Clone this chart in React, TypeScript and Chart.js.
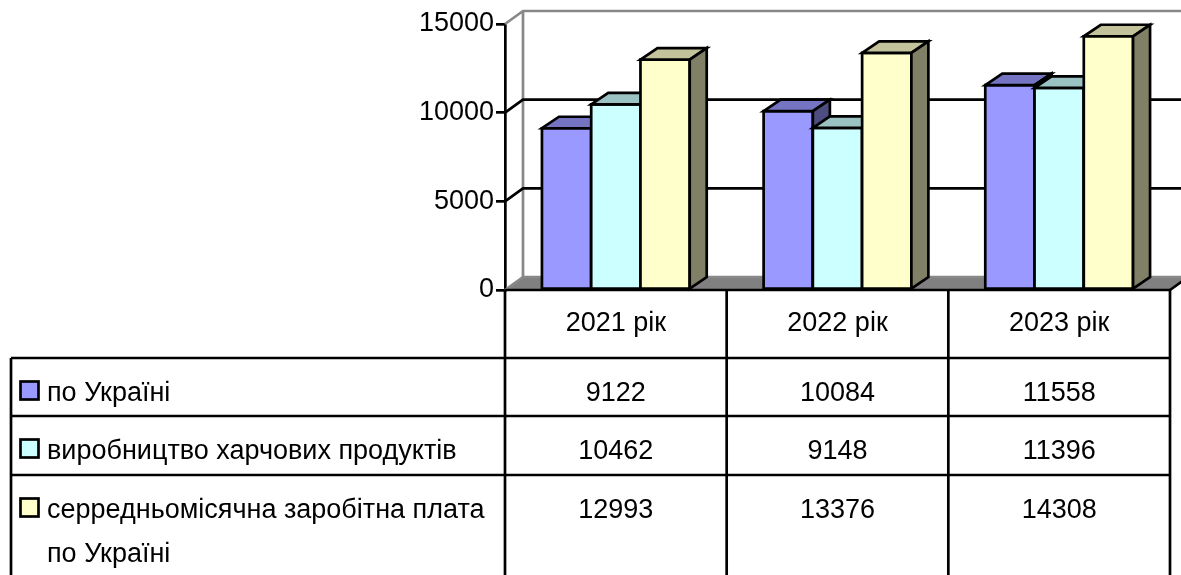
import React, { useEffect, useRef } from 'react';
import { Chart, registerables } from 'chart.js';

Chart.register(...registerables);

// ---- data ----
const categories = ['2021 рік', '2022 рік', '2023 рік'];
const seriesNames = [
  'по Україні',
  'виробництво харчових продуктів',
  'серредньомісячна заробітна плата по Україні',
];
const ukraineValues = [9122, 10084, 11558];
const foodProductionValues = [10462, 9148, 11396];
const averageWageValues = [12993, 13376, 14308];
const seriesColors = ['#9999FF', '#CCFFFF', '#FFFFCC'];
const yMin = 0;
const yMax = 15000;
const yStep = 5000;

// ---- style ----
const FONT_FAMILY = '"Liberation Sans", Arial, sans-serif';
const FONT_SIZE = 27;
const LW = 2.7;
const BAR_DX = 17;
const BAR_DY = -11.5;
const WALL_DX = 18;
const WALL_DY = -13;
const WALL_GRAY = '#888888';
const FLOOR_FILL = '#808080';

const TABLE_LEFT = 11;
const ROW_LINES = [358, 416, 475];
const CAT_BASELINE_OFFSET = 41;
const ROW_BASELINE_OFFSET = 43;
const LINE_HEIGHT = 44;
const LABEL_X = 47;

function shade(hex: string, f: number) {
  const n = parseInt(hex.slice(1), 16);
  const r = Math.round(((n >> 16) & 255) * f);
  const g = Math.round(((n >> 8) & 255) * f);
  const b = Math.round((n & 255) * f);
  return `rgb(${r},${g},${b})`;
}

function wrap(ctx: CanvasRenderingContext2D, text: string, maxW: number) {
  const words = text.split(' ');
  const lines: string[] = [];
  let cur = '';
  for (const w of words) {
    const t = cur ? cur + ' ' + w : w;
    if (ctx.measureText(t).width > maxW && cur) {
      lines.push(cur);
      cur = w;
    } else cur = t;
  }
  if (cur) lines.push(cur);
  return lines;
}

const threeDPlugin = {
  id: 'threeD',
  beforeDatasetsDraw(chart: any) {
    const ctx: CanvasRenderingContext2D = chart.ctx;
    const { left, right, bottom } = chart.chartArea;
    const ys = chart.scales.y;
    ctx.save();
    ctx.lineJoin = 'miter';
    // floor
    ctx.beginPath();
    ctx.moveTo(left, bottom);
    ctx.lineTo(right, bottom);
    ctx.lineTo(right + WALL_DX, bottom + WALL_DY);
    ctx.lineTo(left + WALL_DX, bottom + WALL_DY);
    ctx.closePath();
    ctx.fillStyle = FLOOR_FILL;
    ctx.fill();
    ctx.lineWidth = LW;
    ctx.strokeStyle = '#000';
    ctx.beginPath();
    ctx.moveTo(right, bottom);
    ctx.lineTo(right + WALL_DX, bottom + WALL_DY);
    ctx.stroke();

    // back wall vertical edge
    const yTopBack = ys.getPixelForValue(yMax) + WALL_DY;
    const yBotBack = ys.getPixelForValue(yMin) + WALL_DY;
    ctx.strokeStyle = WALL_GRAY;
    ctx.beginPath();
    ctx.moveTo(left + WALL_DX, yTopBack);
    ctx.lineTo(left + WALL_DX, yBotBack);
    ctx.stroke();

    // gridlines with diagonal connectors
    for (let v = yMin; v <= yMax; v += yStep) {
      const yf = ys.getPixelForValue(v);
      const yb = yf + WALL_DY;
      ctx.strokeStyle = v === yMin || v === yMax ? WALL_GRAY : '#000';
      ctx.beginPath();
      ctx.moveTo(left, yf);
      ctx.lineTo(left + WALL_DX, yb);
      ctx.lineTo(right + WALL_DX + 20, yb);
      ctx.stroke();
    }

    // bars
    const n = chart.data.labels.length;
    for (let j = 0; j < n; j++) {
      chart.data.datasets.forEach((ds: any, i: number) => {
        const el = chart.getDatasetMeta(i).data[j];
        const x0 = el.x - el.width / 2;
        const x1 = el.x + el.width / 2;
        const yt = el.y;
        const yb = el.base;
        const col = ds.backgroundColor;
        ctx.strokeStyle = '#000';
        ctx.lineWidth = LW;
        // front
        ctx.fillStyle = col;
        ctx.beginPath();
        ctx.rect(x0, yt, x1 - x0, yb - yt);
        ctx.fill();
        ctx.stroke();
        // top
        ctx.fillStyle = shade(col, 0.76);
        ctx.beginPath();
        ctx.moveTo(x0, yt);
        ctx.lineTo(x1, yt);
        ctx.lineTo(x1 + BAR_DX, yt + BAR_DY);
        ctx.lineTo(x0 + BAR_DX, yt + BAR_DY);
        ctx.closePath();
        ctx.fill();
        ctx.stroke();
        // side
        ctx.fillStyle = shade(col, 0.5);
        ctx.beginPath();
        ctx.moveTo(x1, yt);
        ctx.lineTo(x1 + BAR_DX, yt + BAR_DY);
        ctx.lineTo(x1 + BAR_DX, yb + BAR_DY);
        ctx.lineTo(x1, yb);
        ctx.closePath();
        ctx.fill();
        ctx.stroke();
      });
    }
    ctx.restore();
    return false;
  },
  afterDraw(chart: any) {
    const ctx: CanvasRenderingContext2D = chart.ctx;
    const { left, right, bottom } = chart.chartArea;
    const xs = chart.scales.x;
    const H = chart.height;
    const n = chart.data.labels.length;
    const catW = (right - left) / n;
    ctx.save();
    ctx.strokeStyle = '#000';
    ctx.lineWidth = LW;
    ctx.lineCap = 'butt';
    // category axis / table top
    ctx.beginPath();
    ctx.moveTo(left, bottom);
    ctx.lineTo(right, bottom);
    ctx.stroke();
    // column verticals
    for (let k = 0; k <= n; k++) {
      const x = left + k * catW;
      ctx.beginPath();
      ctx.moveTo(x, bottom);
      ctx.lineTo(x, H + 2);
      ctx.stroke();
    }
    // legend column left border
    ctx.beginPath();
    ctx.moveTo(TABLE_LEFT, ROW_LINES[0]);
    ctx.lineTo(TABLE_LEFT, H + 2);
    ctx.stroke();
    // row lines
    ROW_LINES.forEach((y) => {
      ctx.beginPath();
      ctx.moveTo(TABLE_LEFT, y);
      ctx.lineTo(right, y);
      ctx.stroke();
    });

    ctx.fillStyle = '#000';
    ctx.font = `${FONT_SIZE}px ${FONT_FAMILY}`;
    ctx.textBaseline = 'alphabetic';
    // category labels
    ctx.textAlign = 'center';
    chart.data.labels.forEach((lab: string, j: number) => {
      ctx.fillText(lab, xs.getPixelForValue(j), bottom + CAT_BASELINE_OFFSET);
    });
    // data rows
    chart.data.datasets.forEach((ds: any, i: number) => {
      const base = ROW_LINES[i] + ROW_BASELINE_OFFSET;
      // swatch
      ctx.fillStyle = ds.backgroundColor;
      ctx.fillRect(20.5, base - 19.5, 18, 18);
      ctx.strokeRect(20.5, base - 19.5, 18, 18);
      ctx.fillStyle = '#000';
      ctx.textAlign = 'left';
      const lines = wrap(ctx, ds.label, left - LABEL_X - 8);
      lines.forEach((ln, k) => ctx.fillText(ln, LABEL_X, base + k * LINE_HEIGHT));
      ctx.textAlign = 'center';
      ds.data.forEach((v: number, j: number) => {
        ctx.fillText(String(v), xs.getPixelForValue(j), base);
      });
    });
    ctx.restore();
  },
};

export default function App() {
  const ref = useRef<HTMLCanvasElement | null>(null);
  useEffect(() => {
    document.body.style.margin = '0';
    document.body.style.overflow = 'hidden';
    const canvas = ref.current!;
    const chart = new Chart(canvas, {
      type: 'bar',
      data: {
        labels: categories,
        datasets: [ukraineValues, foodProductionValues, averageWageValues].map((d, i) => ({
          label: seriesNames[i],
          data: d,
          backgroundColor: seriesColors[i],
          categoryPercentage: 3 / 4.5,
          barPercentage: 1,
        })),
      },
      options: {
        responsive: false,
        animation: false,
        devicePixelRatio: 1,
        layout: { padding: { left: 0, right: 11, top: 24, bottom: 285 } },
        plugins: { legend: { display: false }, tooltip: { enabled: false } },
        events: [],
        scales: {
          x: { type: 'category', display: false, offset: true },
          y: {
            min: yMin,
            max: yMax,
            ticks: {
              stepSize: yStep,
              color: '#000',
              padding: 2,
              font: { family: FONT_FAMILY, size: FONT_SIZE },
              callback: (v: any) => String(v),
            },
            grid: {
              drawOnChartArea: false,
              drawTicks: true,
              tickLength: 9,
              color: '#000',
              lineWidth: LW,
            },
            border: { display: true, color: '#000', width: LW },
            afterFit: (s: any) => {
              s.width = 505;
            },
          },
        },
      },
      plugins: [threeDPlugin],
    } as any);
    return () => chart.destroy();
  }, []);
  return (
    <div style={{ width: 1181, height: 575 }}>
      <canvas ref={ref} width={1181} height={575} style={{ display: 'block' }} />
    </div>
  );
}
